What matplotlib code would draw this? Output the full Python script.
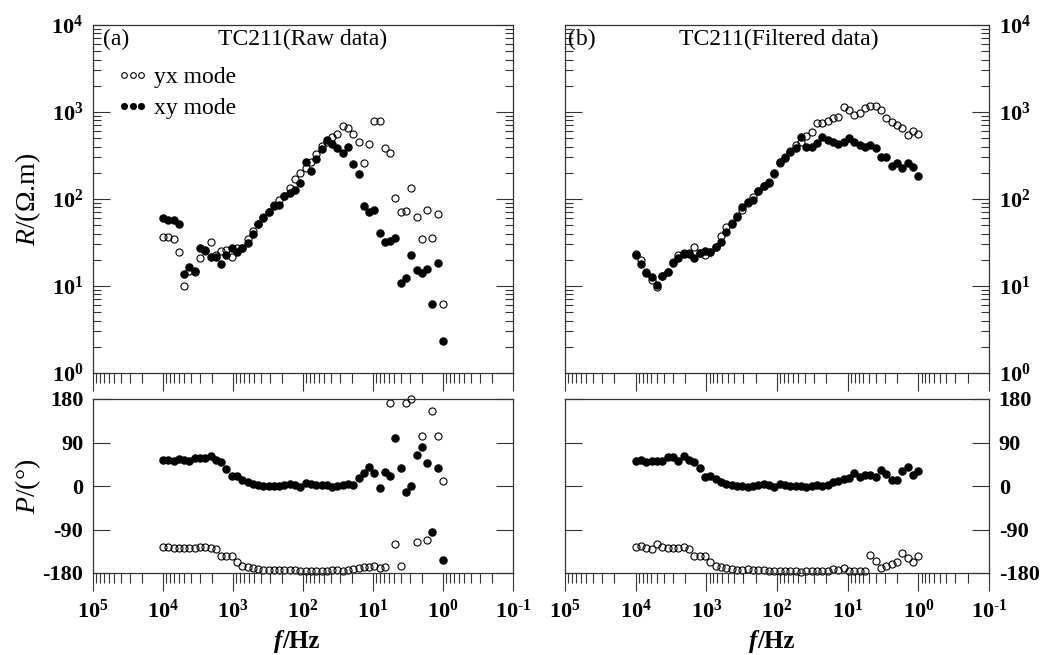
import matplotlib
matplotlib.use("Agg")
import matplotlib.pyplot as plt
import numpy as np
from matplotlib.ticker import LogLocator, NullFormatter, FuncFormatter, FixedLocator, FixedFormatter

# sounding frequencies (Hz), shared by all four panels
freq = [10000, 8402, 7064, 5937, 4991, 4194, 3526, 2963, 2490, 2094,
        1760, 1479, 1243, 1044.5, 878, 738, 620, 521, 438, 368,
        309.5, 260, 218.6, 183.8, 154.4, 129.8, 109.1, 91.7, 77.1, 64.8,
        54.4, 45.8, 38.5, 32.3, 27.2, 22.8, 19.2, 16.1, 13.56, 11.39,
        9.58, 8.05, 6.77, 5.68, 4.78, 4.02, 3.38, 2.84, 2.38, 2.00,
        1.68, 1.42, 1.19, 1.0]

# (a) raw data
rho_yx_raw = [37, 37, 35, 24.4, 10.1, 15, 14.5, 20.8, 25, 31.8,
              23, 25.5, 26, 21.7, 27, 27, 35, 43, 52, 62,
              70, 85, 97, 108, 133, 168, 197, 230, 264, 329,
              407, 456, 520, 554, 690, 649, 554, 456, 257, 429,
              795, 795, 382, 341, 102, 70, 73, 133, 62, 35,
              75, 36, 67, 6.2]
rho_xy_raw = [60, 58, 58, 51, 13.7, 16.4, 14.9, 27, 26, 21.7,
              21.7, 17.7, 23, 27, 24.8, 27.5, 31.5, 40, 51, 61,
              70, 82, 85, 108, 116, 126, 154, 268, 211, 286,
              373, 476, 429, 382, 335, 399, 253, 194, 82, 70,
              75, 41, 32, 32.5, 36, 10.7, 12.5, 23, 15.3, 14,
              15.8, 6.2, 18.2, 2.33]
phs_yx_raw = [-126.9, -126.9, -128.3, -128.3, -128.3, -128.3, -129, -126.9, -126.9, -128.3,
              -130.3, -144.1, -144.1, -144.1, -157.9, -164.8, -168.3, -170.3, -171.7, -173.1,
              -173.1, -173.1, -173.1, -173.1, -173.1, -173.8, -175.2, -175.2, -175.2, -176.6,
              -176.6, -175.2, -173.8, -173.8, -175.2, -173.8, -171.7, -170.3, -168.3, -168.3,
              -166.2, -169, -166.9, 171.7, -120, -166, 171.7, 180, -116.6, 104,
              -111, 156, 103, 11]
phs_xy_raw = [53.8, 53.8, 52.4, 55.2, 53.8, 52.4, 58.6, 57.2, 57.2, 62.8,
              53.8, 49, 35.2, 20, 21.4, 13.1, 7.6, 4.1, 2.1, 0.7,
              -0.7, 0.7, -0.7, 2.1, 4.1, 2.1, -1.4, 5.5, 4.1, 2.1,
              2.1, 2.1, -1.4, -0.7, 2.1, 4.1, 2.1, 15.9, 26.2, 40,
              26.9, -4.8, 29.7, 20, 98.6, 36.6, -13.1, 0.7, 64.1, 80.7,
              46.9, -95.9, 36.6, -152.4]

# (b) filtered data
rho_yx_flt = [23.5, 19.9, 14.5, 11.7, 9.8, 13.2, 14.6, 19, 22.7, 23.7,
              23.7, 27.8, 23.7, 22.7, 24.8, 28.3, 37.6, 48, 53, 64,
              75, 90, 106, 124, 141, 158, 195, 262, 300, 360,
              418, 456, 530, 594, 741, 754, 788, 846, 883, 1151,
              1054, 924, 984, 1102, 1172, 1172, 1054, 846, 774, 710,
              649, 544, 610, 554]
rho_xy_flt = [22.7, 17.9, 14, 12.6, 10.3, 13, 14.6, 18.5, 20.8, 23.1,
              23.1, 20.8, 23.7, 25.3, 24.8, 28.3, 32.3, 42, 51, 62.6,
              81.6, 93, 97.4, 124, 141, 151, 197, 264, 293, 350,
              382, 512, 399, 399, 436, 520, 476, 456, 429, 456,
              498, 456, 418, 399, 418, 382, 307, 307, 242, 257,
              225, 257, 235, 185]
phs_yx_flt = [-126.9, -123.4, -129, -130.3, -120, -126.9, -128.3, -128.3, -128.3, -125.5,
              -130.3, -145.5, -145.5, -145.5, -157.9, -164.8, -168.3, -170.3, -171.7, -173.1,
              -173.1, -171.7, -173.1, -173.1, -173.1, -175.2, -175.2, -176.6, -175.2, -175.2,
              -176.6, -177.3, -176.6, -175.2, -175.2, -175.2, -175.2, -171.7, -173.1, -169.7,
              -176.6, -176.6, -175.2, -175.2, -142.8, -154.5, -169.7, -166.2, -161.4, -156.6,
              -138.6, -149.7, -156.6, -145.5]
phs_xy_flt = [52.4, 54.5, 50.3, 52.4, 52.4, 52.4, 59.3, 60.7, 52.4, 62.8,
              53.8, 50.3, 36.6, 19.3, 21.4, 14.5, 7.6, 4.1, 2.1, 0.7,
              -0.7, -1.4, 0.7, 2.1, 4.1, 2.8, -2.8, 4.1, 2.1, 0.7,
              0.7, 0.7, -2.8, 0.7, 2.1, 0.7, 2.1, 9, 11, 14.5,
              15.9, 26.9, 19.3, 23.4, 22.8, 17.9, 33.8, 24.8, 12.4, 12.4,
              31.7, 38.6, 23.4, 31.7]

phase_ticks = [-180, -90, 0, 90, 180]
phase_labels = ["-180", "-90", "0", "90", "180"]

plt.rcParams.update({
    "font.family": ["Liberation Serif", "DejaVu Serif"],
    "font.weight": "bold",
    "mathtext.fontset": "custom",
    "mathtext.rm": "Liberation Serif:weight=normal",
    "mathtext.it": "Liberation Serif:style=italic:weight=normal",
    "mathtext.bf": "Liberation Serif:weight=bold",
    "axes.unicode_minus": False,
})

W, H = 1064, 655
fig = plt.figure(figsize=(W / 100, H / 100), dpi=100)


def px_axes(x0, y0, x1, y1):
    return fig.add_axes([x0 / W, 1 - y1 / H, (x1 - x0) / W, (y1 - y0) / H])


def pow_label(v, pos):
    e = int(round(np.log10(v)))
    if e < 0:
        return r"$\mathbf{10^{\text{-}%d}}$" % (-e)
    return r"$\mathbf{10^{%d}}$" % e


pow10 = FuncFormatter(pow_label)
EDGE = "#333333"
MS = 5.1
NORMAL = dict(fontweight="normal")


def style(ax, right_labels, top):
    for sp in ax.spines.values():
        sp.set_color(EDGE)
        sp.set_linewidth(0.9)
    ax.set_xscale("log")
    ax.set_xlim(1e5, 1e-1)
    ax.xaxis.set_major_locator(FixedLocator([1e5, 1e4, 1e3, 1e2, 1e1, 1e0, 1e-1]))
    ax.xaxis.set_minor_locator(LogLocator(base=10, subs=range(2, 10), numticks=20))
    ax.xaxis.set_minor_formatter(NullFormatter())
    ax.xaxis.set_major_formatter(pow10)
    ax.tick_params(axis="x", which="major", direction="out", length=13, width=0.8,
                   color=EDGE, pad=6, labelsize=16, top=False, labelbottom=not top)
    ax.tick_params(axis="x", which="minor", direction="out", length=7, width=0.8,
                   color=EDGE, top=False)
    ax.tick_params(axis="y", which="major", direction="in", length=12.5, width=0.8,
                   color=EDGE, left=True, right=True, labelsize=16, pad=7,
                   labelleft=not right_labels, labelright=right_labels)
    ax.tick_params(axis="y", which="minor", direction="in", length=6, width=0.8,
                   color=EDGE, left=True, right=True)


def draw_rho(ax, yx, xy):
    ax.plot(freq, yx, "o", mfc="none", mec="k", mew=0.8, ms=MS, ls="none",
            clip_on=False, label="yx mode")
    ax.plot(freq, xy, "o", mfc="k", mec="k", ms=MS, ls="none",
            clip_on=False, label="xy mode")
    ax.set_yscale("log")
    ax.set_ylim(1, 1e4)
    ax.yaxis.set_major_locator(FixedLocator([1, 1e1, 1e2, 1e3, 1e4]))
    ax.yaxis.set_minor_locator(LogLocator(base=10, subs=range(2, 10), numticks=20))
    ax.yaxis.set_minor_formatter(NullFormatter())
    ax.yaxis.set_major_formatter(pow10)


def draw_phs(ax, yx, xy):
    ax.plot(freq, yx, "o", mfc="none", mec="k", mew=0.8, ms=MS, ls="none", clip_on=False)
    ax.plot(freq, xy, "o", mfc="k", mec="k", ms=MS, ls="none", clip_on=False)
    ax.set_ylim(-180, 180)
    ax.yaxis.set_major_locator(FixedLocator(phase_ticks))
    ax.yaxis.set_major_formatter(FixedFormatter(phase_labels))
    ax.yaxis.set_minor_locator(FixedLocator([]))


def xlabel(ax, split):
    ax.text(split, -0.43, "f", transform=ax.transAxes, ha="right", va="baseline",
            fontsize=18, fontweight="bold", fontstyle="italic")
    ax.text(split, -0.43, "/Hz", transform=ax.transAxes, ha="left", va="baseline",
            fontsize=18, fontweight="bold")


ax_ra = px_axes(93, 25, 513, 373)
ax_pa = px_axes(93, 399, 513, 573)
ax_rb = px_axes(565, 25, 989, 373)
ax_pb = px_axes(565, 399, 989, 573)

draw_rho(ax_ra, rho_yx_raw, rho_xy_raw)
draw_rho(ax_rb, rho_yx_flt, rho_xy_flt)
draw_phs(ax_pa, phs_yx_raw, phs_xy_raw)
draw_phs(ax_pb, phs_yx_flt, phs_xy_flt)

style(ax_ra, False, True)
style(ax_pa, False, False)
style(ax_rb, True, True)
style(ax_pb, True, False)

ax_ra.text(0.024, 0.99, "(a)", transform=ax_ra.transAxes, ha="left", va="top", fontsize=17, **NORMAL)
ax_ra.text(0.5, 0.99, "TC211(Raw data)", transform=ax_ra.transAxes, ha="center", va="top",
           fontsize=17, **NORMAL)
ax_rb.text(0.008, 0.99, "(b)", transform=ax_rb.transAxes, ha="left", va="top", fontsize=17, **NORMAL)
ax_rb.text(0.503, 0.99, "TC211(Filtered data)", transform=ax_rb.transAxes, ha="center", va="top",
           fontsize=17, **NORMAL)

ax_ra.legend(loc="upper left", bbox_to_anchor=(0.058, 0.88), numpoints=3, frameon=False,
             handlelength=1.3, handletextpad=0.25, labelspacing=0.4, borderaxespad=0,
             borderpad=0, prop={"size": 17, "weight": "normal"}, markerscale=0.8)

ax_ra.set_ylabel(r"$R$/(Ω.m)", fontsize=20, **NORMAL)
ax_ra.yaxis.set_label_coords(-0.12, 0.5)
ax_pa.set_ylabel(r"$P$/(°)", fontsize=20, **NORMAL)
ax_pa.yaxis.set_label_coords(-0.12, 0.5)

xlabel(ax_pa, 0.45)
xlabel(ax_pb, 0.453)

fig.savefig("out.png", dpi=100)
